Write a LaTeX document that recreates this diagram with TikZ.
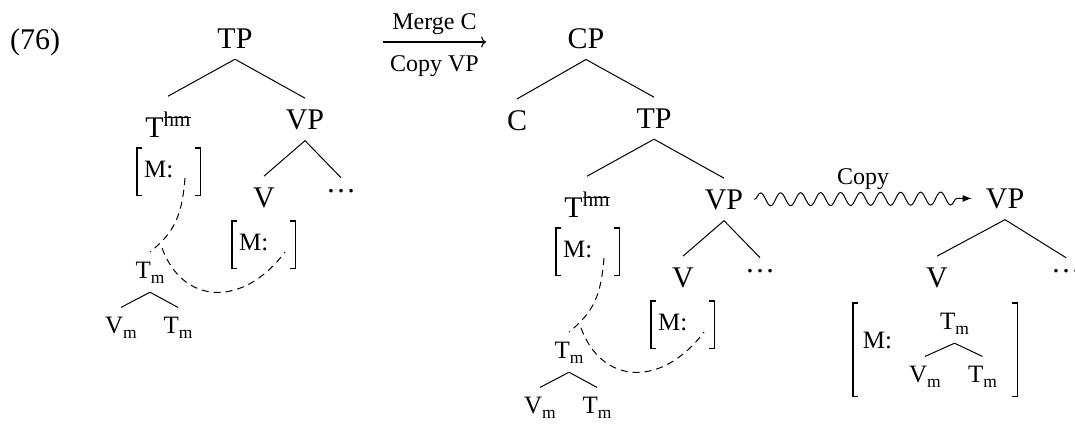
\documentclass[tikz,border=0pt]{standalone}
\usepackage{fontspec}
\setmainfont{Liberation Serif}
\usetikzlibrary{arrows.meta,decorations.pathmorphing,calc}
\newcommand\bigfont{\fontsize{30}{36}\selectfont}
\newcommand\midfont{\fontsize{25}{30}\selectfont}
\newcommand\arrfont{\fontsize{24}{28}\selectfont}
\newcommand\subm{\raisebox{-5pt}{\fontsize{17.5}{18}\selectfont m}}
\newcommand\struck[1]{\sbox0{#1}\rlap{\usebox0}\rule[0.40em]{\wd0}{1pt}}
\newcommand\hmsup{\raisebox{11pt}{\fontsize{21}{21}\selectfont\struck{hm}}}
\newcommand\avmbr[1]{%
  \draw[brk] (#1.north west) ++(5,0) -- (#1.north west) -- (#1.south west) -- ++(5,0);
  \draw[brk] (#1.north east) ++(-5,0) -- (#1.north east) -- (#1.south east) -- ++(-5,0);}
\newcommand\tptree{%
  \node[lab] (tp) at (235,48) {TP};
  \node[lab,inner ysep=15pt] (thm) at (168,137) {T\hmsup};
  \node[lab] (vp) at (305,129) {VP};
  \node[avm] (m1) at (137,148) {\makebox[49pt][l]{M:}};
  \node[lab] (v) at (264,207) {V};
  \node[lab] (dots) at (341,192) {\ldots};
  \node[avm] (m2) at (232,221) {\makebox[49pt][l]{M:}};
  \node[sm] (tm) at (150,278) {T\subm};
  \node[sm] (vm) at (121,333) {V\subm};
  \node[sm] (tmb) at (178,333) {T\subm};
  \draw[branch] (tp.south) -- (thm.north);
  \draw[branch] (tp.south) -- (vp.north);
  \draw[branch] (vp.south) -- (v.north);
  \draw[branch] (vp.south) -- (dots.north);
  \draw[branch] (tm.south) -- (vm.north);
  \draw[branch] (tm.south) -- (tmb.north);
  \avmbr{m1}\avmbr{m2}
  \coordinate (d1a) at (185,178);
  \coordinate (d1b) at (150,252);
  \coordinate (d2a) at (162,248);
  \coordinate (d2b) at (285,252);
  \draw[dsh] (d1a) .. controls (182,215) and (175,232) .. (d1b);
  \draw[dsh] (d2a) .. controls (183,305) and (243,308) .. (d2b);
}
\begin{document}
\begin{tikzpicture}[x=1pt,y=-1pt,
  lab/.style={anchor=base,font=\bigfont,inner xsep=0pt,inner ysep=11pt},
  sm/.style={anchor=base,font=\midfont,inner xsep=0pt,inner ysep=9pt},
  avm/.style={anchor=north west,font=\midfont,inner xsep=7pt,inner ysep=0pt,text height=29.5pt,text depth=17.5pt},
  bigbrk/.style={anchor=north west,inner sep=0pt,minimum width=164pt,minimum height=93pt},
  branch/.style={line width=1pt},
  brk/.style={line width=1.1pt},
  dsh/.style={line width=1pt,dash pattern=on 7pt off 5pt},
  marrow/.style={line width=1.1pt,-{To[length=5pt,width=11pt]}},
  wavy/.style={line width=1pt,-{Latex[length=9pt,width=7pt]},decorate,
    decoration={snake,amplitude=6.5pt,segment length=20pt,post length=12pt}},
  arrlab/.style={font=\arrfont,inner sep=0pt}]
\useasboundingbox (0,0) rectangle (1075,423);
\node[lab,anchor=base west,inner sep=0pt] (ex) at (10,49) {(76)};
\tptree
\coordinate (ma1) at (383,42);
\coordinate (ma2) at (486,42);
\draw[marrow] (ma1) -- (ma2)
  node[midway,above=7pt,arrlab] {Merge C}
  node[midway,below=13pt,arrlab] {Copy VP};
\node[lab] (cp) at (586,48) {CP};
\node[lab] (c) at (517,130) {C};
\begin{scope}[shift={(419,80)},name prefix=r-]
  \tptree
\end{scope}
\draw[branch] (cp.south) -- (c.north);
\draw[branch] (cp.south) -- (r-tp.north);
\node[lab] (vp2) at (1005,208) {VP};
\node[lab] (v2) at (937,287) {V};
\node[lab] (dots2) at (1066,272) {\ldots};
\draw[branch] (vp2.south) -- (v2.north);
\draw[branch] (vp2.south) -- (dots2.north);
\node[bigbrk] (m3) at (853,303) {};
\avmbr{m3}
\node[sm] (mlab) at (877.5,348) {M:};
\node[sm] (tm3) at (954.5,329) {T\subm};
\node[sm] (vm3) at (925,382) {V\subm};
\node[sm] (tm4) at (982.5,382) {T\subm};
\draw[branch] (tm3.south) -- (vm3.north);
\draw[branch] (tm3.south) -- (tm4.north);
\draw[wavy] ($(r-vp.east)+(11,0)$) -- ($(vp2.west)+(-14,0)$)
  node[midway,above=9pt,arrlab] {Copy};
\end{tikzpicture}
\end{document}
